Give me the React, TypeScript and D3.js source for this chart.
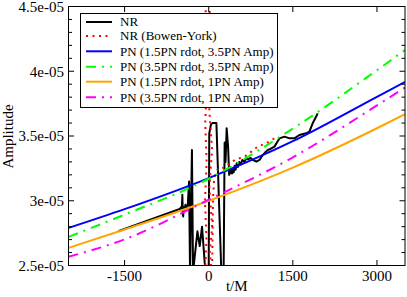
import React from "react";
import * as d3 from "d3";

// ---- data (t/M, amplitude in units of 1e-5) ----
const pnT = [-2500, -1500, 0, 1500, 3000, 3500];
const pnBlue = [2.79, 2.935, 3.175, 3.46, 3.803, 3.918]; // PN (1.5PN rdot, 3.5PN Amp)
const pnGreen = [2.721, 2.893, 3.17, 3.557, 4.008, 4.164]; // PN (3.5PN rdot, 3.5PN Amp)
const pnOrange = [2.636, 2.778, 3.0, 3.256, 3.56, 3.669]; // PN (1.5PN rdot, 1PN Amp)
const pnMagenta = [2.567, 2.702, 3.008, 3.335, 3.736, 3.875]; // PN (3.5PN rdot, 1PN Amp)

const nrT = [
  -1612, -515, -495, -480, -470, -462, -455, -445, -430, -415, -400, -385, -373, -350, -333, -299, -279,
  -201, -160, -119, -71, -50, 0, 10, 40, 70, 137, 225, 266, 284, 300, 320, 345, 365, 386, 400, 415, 430,
  445, 462, 480, 500, 520, 545, 570, 600, 640, 670, 698, 746, 787, 848, 906, 965, 1000, 1054, 1100, 1173,
  1262, 1351, 1440, 1528, 1617, 1736, 1795, 1854, 1914, 1943,
];
const nrA = [
  2.764, 2.936, 2.95, 2.93, 3.046, 2.9, 2.879, 2.95, 2.93, 2.97, 2.94, 2.96, 2.97, 3.149, 2.45, 3.392, 2.45,
  2.764, 2.65, 2.8, 2.52, 2.45, 2.45, 3.52, 3.59, 3.6, 3.6, 2.45, 2.45, 3.45, 3.3, 3.56, 3.42, 3.2, 3.22, 3.24,
  3.21, 3.25, 3.22, 3.27, 3.24, 3.29, 3.26, 3.3, 3.28, 3.315, 3.3, 3.33, 3.32, 3.33, 3.315, 3.302, 3.315, 3.354,
  3.37, 3.392, 3.4, 3.418, 3.482, 3.495, 3.482, 3.482, 3.508, 3.521, 3.533, 3.598, 3.648, 3.675,
];

const byT = [
  -70, -40, -66, -38, -62, -36, -60, -34, -56, -32, -50, -30, 0, 30, 5, 55, 10, 60, 12, 62, 20, 66, 60, 70,
  80, 95, 120, 170, 230, 315, 462, 640, 759, 876, 1025, 1173,
];
const byA = [
  2.4, 2.7, 3.0, 3.3, 3.6, 3.9, 4.1, 4.3, 4.45, 4.6, 4.7, 4.7, 4.7, 4.6, 4.3, 4.0, 3.7, 3.4, 3.1, 2.8, 2.6, 2.4,
  2.4, 2.8, 3.05, 3.15, 3.21, 3.25, 3.25, 3.264, 3.315, 3.341, 3.379, 3.418, 3.444, 3.482,
];

const xTicks = [-1500, 0, 1500, 3000];
const yTicks = [2.5, 3.0, 3.5, 4.0, 4.5];
const yTickLabels = ["2.5e-05", "3e-05", "3.5e-05", "4e-05", "4.5e-05"];
const yMinor = d3.range(25, 46).map((v) => v / 10);

const legendLabels = [
  "NR",
  "NR (Bowen-York)",
  "PN (1.5PN rdot, 3.5PN Amp)",
  "PN (3.5PN rdot, 3.5PN Amp)",
  "PN (1.5PN rdot, 1PN Amp)",
  "PN (3.5PN rdot, 1PN Amp)",
];

const W = 407;
const H = 297;
const L = 68.5;
const R = 405;
const T = 6.5;
const B = 265.5;

const FONT = "'Liberation Serif', 'Times New Roman', serif";

export default function App() {
  const x = d3.scaleLinear().domain([-2500, 3500]).range([L, R]);
  const y = d3.scaleLinear().domain([2.5, 4.5]).range([B, T]);

  const smooth = d3
    .line<[number, number]>()
    .x((d) => x(d[0]))
    .y((d) => y(d[1]))
    .curve(d3.curveMonotoneX);
  const straight = d3
    .line<[number, number]>()
    .x((d) => x(d[0]))
    .y((d) => y(d[1]));

  const zip = (a: number[], b: number[]) => a.map((v, i) => [v, b[i]] as [number, number]);

  const series = [
    { label: legendLabels[0], color: "#000000", dash: undefined as string | undefined, path: straight(zip(nrT, nrA)) },
    { label: legendLabels[1], color: "#ff0000", dash: "2,4.5", path: straight(zip(byT, byA)) },
    { label: legendLabels[2], color: "#0000ff", dash: undefined, path: smooth(zip(pnT, pnBlue)) },
    { label: legendLabels[3], color: "#00ff00", dash: "10,6,2,6", path: smooth(zip(pnT, pnGreen)) },
    { label: legendLabels[4], color: "#ffa500", dash: undefined, path: smooth(zip(pnT, pnOrange)) },
    { label: legendLabels[5], color: "#ff00ff", dash: "10,6,2,6", path: smooth(zip(pnT, pnMagenta)) },
  ];

  const legendRowsY = [22, 36, 51.3, 66.7, 81.7, 97.3];

  return (
    <svg
      width={W}
      height={H}
      style={{ position: "absolute", left: 0, top: 0, background: "#fff" }}
      fontFamily={FONT}
    >
      <defs>
        <clipPath id="plotclip">
          <rect x={L} y={T} width={R - L} height={B - T} />
        </clipPath>
      </defs>
      <rect x={0} y={0} width={W} height={H} fill="#fff" />

      <g clipPath="url(#plotclip)">
        {series.map((s, i) => (
          <path
            key={i}
            d={s.path || ""}
            fill="none"
            stroke={s.color}
            strokeWidth={2}
            strokeDasharray={s.dash}
            strokeLinejoin="round"
          />
        ))}
      </g>

      {/* frame */}
      <rect x={L} y={T} width={R - L} height={B - T} fill="none" stroke="#000" strokeWidth={1} />

      {/* y ticks */}
      {yMinor.map((v, i) => {
        const major = Math.abs(v * 2 - Math.round(v * 2)) < 1e-6;
        const len = major ? 5.5 : 3.5;
        return (
          <g key={"ym" + i}>
            <line x1={L} x2={L + len} y1={y(v)} y2={y(v)} stroke="#000" strokeWidth={1} />
            <line x1={R - len} x2={R} y1={y(v)} y2={y(v)} stroke="#000" strokeWidth={1} />
          </g>
        );
      })}
      {yTicks.map((v, i) => (
        <text key={"yl" + i} x={64} y={y(v)} dy="0.35em" textAnchor="end" fontSize={15}>
          {yTickLabels[i]}
        </text>
      ))}

      {/* x ticks */}
      {xTicks.map((v, i) => (
        <g key={"xt" + i}>
          <line x1={x(v)} x2={x(v)} y1={B} y2={B - 5.5} stroke="#000" strokeWidth={1} />
          <line x1={x(v)} x2={x(v)} y1={T} y2={T + 5.5} stroke="#000" strokeWidth={1} />
          <text x={x(v)} y={280.5} textAnchor="middle" fontSize={15}>
            {String(v)}
          </text>
        </g>
      ))}

      <text x={(L + R) / 2} y={291} textAnchor="middle" fontSize={15}>
        t/M
      </text>
      <text transform={`translate(13,136.5) rotate(-90)`} textAnchor="middle" fontSize={15}>
        Amplitude
      </text>

      {/* legend */}
      <rect x={80.5} y={13.5} width={197} height={94} fill="#fff" stroke="#000" strokeWidth={1} />
      {series.map((s, i) => (
        <g key={"lg" + i}>
          <line
            x1={86}
            x2={112}
            y1={legendRowsY[i]}
            y2={legendRowsY[i]}
            stroke={s.color}
            strokeWidth={2}
            strokeDasharray={s.dash}
          />
          <text x={120} y={legendRowsY[i]} dy="0.33em" fontSize={13}>
            {s.label}
          </text>
        </g>
      ))}
    </svg>
  );
}
